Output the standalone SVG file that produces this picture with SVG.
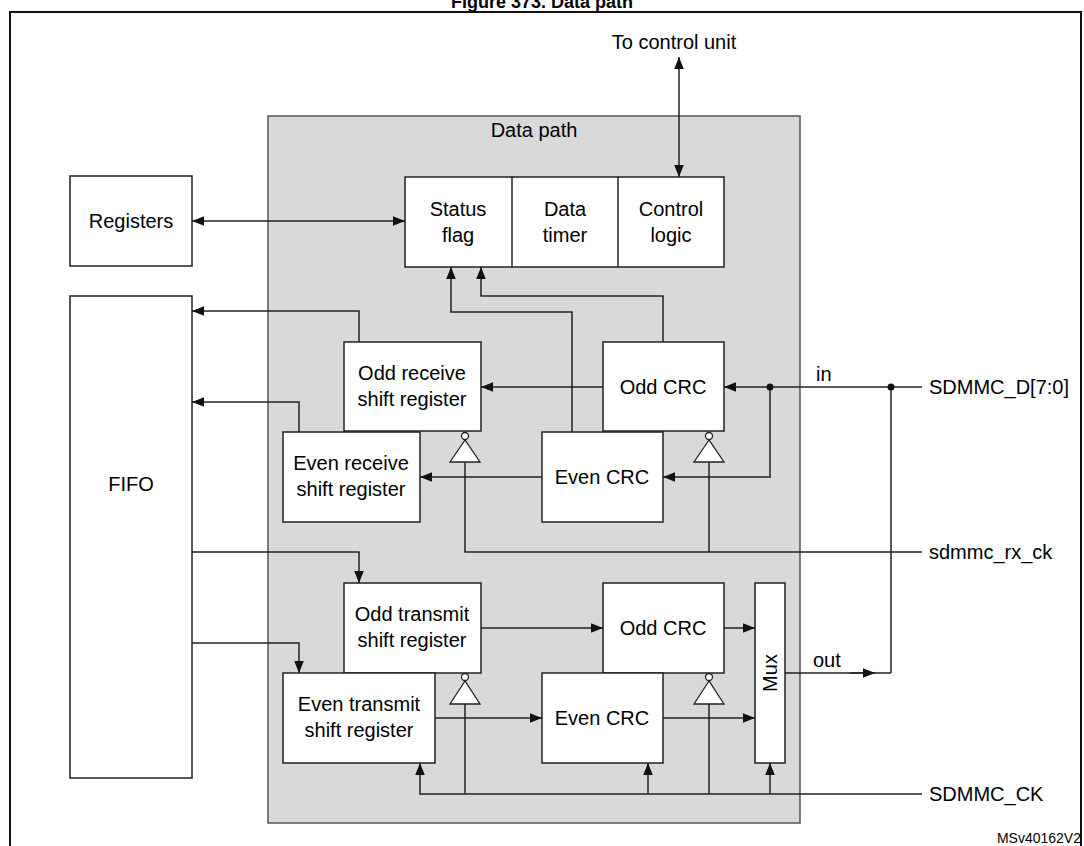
<svg xmlns="http://www.w3.org/2000/svg" width="1084" height="846" viewBox="0 0 1084 846">
<style>
text{font-family:"Liberation Sans",Arial,sans-serif;font-size:20px;fill:#000}
.c{text-anchor:middle}
.b{fill:#fff;stroke:#222;stroke-width:1.5}
.w{fill:none;stroke:#222;stroke-width:1.5}
.inv{fill:#fff;stroke:#222;stroke-width:1.3}
</style>
<defs>
<marker id="a" viewBox="0 0 10 10" refX="10" refY="5" markerWidth="12" markerHeight="12" markerUnits="userSpaceOnUse" orient="auto-start-reverse"><path d="M0,1L10,5L0,9z" fill="#111"/></marker>
</defs>
<rect width="1084" height="846" fill="#fff"/>
<text class="c" x="542" y="8" style="font-weight:bold;font-size:18px">Figure 373. Data path</text>
<rect x="10" y="12" width="1071" height="850" fill="none" stroke="#111" stroke-width="2"/>
<g id="datapath"><rect x="268" y="116" width="532" height="707" fill="#d9d9d9" stroke="#555" stroke-width="1.5"/><text class="c" x="534" y="137">Data path</text></g>
<g id="registers"><rect class="b" x="70" y="176" width="122" height="90"/><text class="c" x="131" y="228">Registers</text></g>
<g id="fifo"><rect class="b" x="70" y="296" width="122" height="482"/><text class="c" x="131" y="491">FIFO</text></g>
<g id="status"><rect class="b" x="405" y="177" width="319" height="90"/><line class="w" x1="512" y1="177" x2="512" y2="267"/><line class="w" x1="618" y1="177" x2="618" y2="267"/>
<text class="c" x="458" y="216">Status</text><text class="c" x="458" y="242">flag</text>
<text class="c" x="565" y="216">Data</text><text class="c" x="565" y="242">timer</text>
<text class="c" x="671" y="216">Control</text><text class="c" x="671" y="242">logic</text></g>
<g id="oddrx"><rect class="b" x="344" y="342" width="137" height="89"/><text class="c" x="412" y="380">Odd receive</text><text class="c" x="412" y="406">shift register</text></g>
<g id="evenrx"><rect class="b" x="283" y="432" width="137" height="90"/><text class="c" x="351" y="470">Even receive</text><text class="c" x="351" y="496">shift register</text></g>
<g id="oddcrcrx"><rect class="b" x="603" y="342" width="121" height="89"/><text class="c" x="663" y="394">Odd CRC</text></g>
<g id="evencrcrx"><rect class="b" x="542" y="432" width="121" height="90"/><text class="c" x="602" y="484">Even CRC</text></g>
<g id="oddtx"><rect class="b" x="344" y="583" width="137" height="90"/><text class="c" x="412" y="621">Odd transmit</text><text class="c" x="412" y="647">shift register</text></g>
<g id="eventx"><rect class="b" x="283" y="673" width="152" height="90"/><text class="c" x="359" y="711">Even transmit</text><text class="c" x="359" y="737">shift register</text></g>
<g id="oddcrctx"><rect class="b" x="603" y="583" width="121" height="90"/><text class="c" x="663" y="635">Odd CRC</text></g>
<g id="evencrctx"><rect class="b" x="542" y="673" width="121" height="90"/><text class="c" x="602" y="725">Even CRC</text></g>
<g id="mux"><rect class="b" x="755" y="583" width="30" height="180"/><text class="c" transform="translate(777,673) rotate(-90)">Mux</text></g>
<g id="inverters">
<path class="inv" d="M465,440L450,462H480Z"/><circle class="inv" cx="465" cy="436" r="3.5"/>
<path class="inv" d="M709,440L694,462H724Z"/><circle class="inv" cx="709" cy="436" r="3.5"/>
<path class="inv" d="M465,681L450,704H480Z"/><circle class="inv" cx="465" cy="677" r="3.5"/>
<path class="inv" d="M709,681L694,704H724Z"/><circle class="inv" cx="709" cy="677" r="3.5"/>
</g>
<g id="connectors" class="w">
<line x1="679" y1="57" x2="679" y2="177" marker-start="url(#a)" marker-end="url(#a)"/>
<line x1="192" y1="221" x2="405" y2="221" marker-start="url(#a)" marker-end="url(#a)"/>
<path d="M572,432V312H451V267" marker-end="url(#a)"/>
<path d="M663,342V296H481V267" marker-end="url(#a)"/>
<path d="M359,342V311H192" marker-end="url(#a)"/>
<path d="M299,432V402H192" marker-end="url(#a)"/>
<path d="M603,387H481" marker-end="url(#a)"/>
<path d="M542,477H420" marker-end="url(#a)"/>
<path d="M922,387H724" marker-end="url(#a)"/>
<path d="M770,387V477H663" marker-end="url(#a)"/>
<path d="M891,387V673"/>
<path d="M465,462V552H922"/>
<path d="M709,462V552"/>
<path d="M192,552H359V583" marker-end="url(#a)"/>
<path d="M192,643H299V673" marker-end="url(#a)"/>
<path d="M481,628H603" marker-end="url(#a)"/>
<path d="M724,628H755" marker-end="url(#a)"/>
<path d="M435,718H542" marker-end="url(#a)"/>
<path d="M663,718H755" marker-end="url(#a)"/>
<path d="M785,673H891"/>
<path d="M850,673H875" marker-end="url(#a)"/>
<path d="M922,794H420V763" marker-end="url(#a)"/>
<path d="M648,794V763" marker-end="url(#a)"/>
<path d="M770,794V763" marker-end="url(#a)"/>
<path d="M465,704V794"/>
<path d="M709,704V794"/>
</g>
<circle cx="770" cy="387" r="3.5" fill="#111"/><circle cx="891" cy="387" r="3.5" fill="#111"/>
<text class="c" x="674" y="49">To control unit</text>
<text x="816" y="381">in</text>
<text x="813" y="667">out</text>
<text x="929" y="394">SDMMC_D[7:0]</text>
<text x="929" y="559">sdmmc_rx_ck</text>
<text x="929" y="801">SDMMC_CK</text>
<text x="1081" y="843" style="font-size:14px;text-anchor:end">MSv40162V2</text>
</svg>
